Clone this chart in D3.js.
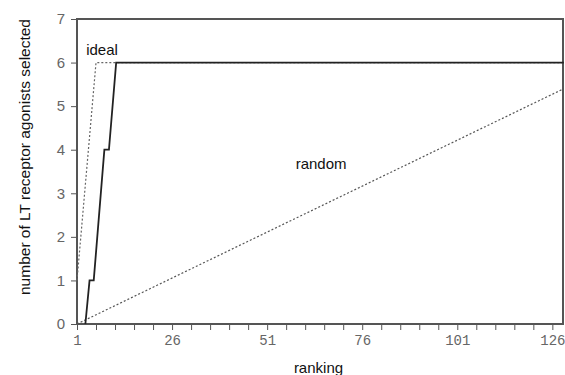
<!DOCTYPE html>
<html><head>
<meta charset="utf-8">
<script src="https://d3js.org/d3.v7.min.js"></script>
<style>
  body { margin: 0; background: #fff; }
  .axis text { fill: #666; }
  .axis line, .axis .domain { stroke: #555; }
</style>
</head>
<body>
<svg id="chart" width="565" height="375"></svg>
<script>
// data
let observedRank = [3.2, 4.3, 5.4, 8.2, 9.4, 11.3, 129];
let observedHits = [0, 1, 1, 4, 4, 6, 6];
let idealRank = [1, 2, 3, 4, 5, 6, 129];
let idealHits = [1, 2, 3, 4, 5, 6, 6];
let randomRank = [1, 129];
let randomHits = [0, 5.4];
let xTicks = [1, 26, 51, 76, 101, 126];
let yTicks = [0, 1, 2, 3, 4, 5, 6, 7];

let svg = d3.select("svg#chart");
let margin = { top: 19, right: 2, bottom: 51, left: 77 };
let chartWidth = 565 - margin.left - margin.right;
let chartHeight = 375 - margin.top - margin.bottom;

let xScale = d3.scaleLinear().domain([1, 128.8]).range([0, chartWidth]);
let yScale = d3.scaleLinear().domain([0, 7]).range([chartHeight, 0]);

let g = svg.append("g").attr("transform", "translate(" + margin.left + "," + margin.top + ")");

// y axis
let yAxis = d3.axisLeft(yScale).tickValues(yTicks).tickSize(6).tickPadding(6).tickFormat(d3.format("d"));
g.append("g").attr("class", "axis y")
  .call(yAxis)
  .call(a => a.selectAll("text").style("font-family", "Liberation Sans, Arial").style("font-size", "15px"))
  .call(a => a.select(".domain").remove());

// x axis: minor ticks every 5, labels every 25
let minor = d3.range(1, 128, 5);
let xAxis = d3.axisBottom(xScale).tickValues(minor).tickSize(6).tickPadding(5)
  .tickFormat(d => xTicks.includes(d) ? d : "");
g.append("g").attr("class", "axis x")
  .attr("transform", "translate(0," + chartHeight + ")")
  .call(xAxis)
  .call(a => a.selectAll("text").style("font-family", "Liberation Mono, Courier New, monospace").style("font-size", "14px"))
  .call(a => a.select(".domain").remove());

// frame
g.append("rect")
  .attr("x", 0).attr("y", 0)
  .attr("width", chartWidth).attr("height", chartHeight)
  .attr("fill", "none").attr("stroke", "#555").attr("stroke-width", 2);

let line = d3.line().x(d => xScale(d[0])).y(d => yScale(d[1]));

g.append("path")
  .datum(d3.zip(randomRank, randomHits))
  .attr("d", line)
  .attr("fill", "none").attr("stroke", "#555").attr("stroke-width", 1.2)
  .attr("stroke-dasharray", "2,2");

g.append("path")
  .datum(d3.zip(idealRank, idealHits))
  .attr("d", line)
  .attr("fill", "none").attr("stroke", "#666").attr("stroke-width", 1.2)
  .attr("stroke-dasharray", "2,2");

g.append("path")
  .datum(d3.zip(observedRank, observedHits))
  .attr("d", line)
  .attr("fill", "none").attr("stroke", "#222").attr("stroke-width", 1.8);

// annotations
g.append("text").text("ideal")
  .attr("x", xScale(3.4)).attr("y", yScale(6.17))
  .style("font-family", "Liberation Sans, Arial").style("font-size", "15px").attr("fill", "#111");
g.append("text").text("random")
  .attr("x", xScale(58.5)).attr("y", yScale(3.55))
  .style("font-family", "Liberation Sans, Arial").style("font-size", "15px").attr("fill", "#111");

// axis titles
svg.append("text").text("ranking")
  .attr("x", margin.left + xScale(64.5)).attr("y", 373)
  .attr("text-anchor", "middle")
  .style("font-family", "Liberation Sans, Arial").style("font-size", "15px").attr("fill", "#111");
svg.append("text").text("number of LT receptor agonists selected")
  .attr("transform", "translate(30,157) rotate(-90)")
  .attr("text-anchor", "middle")
  .style("font-family", "Liberation Sans, Arial").style("font-size", "15.5px").attr("fill", "#111");
</script>
</body>
</html>
